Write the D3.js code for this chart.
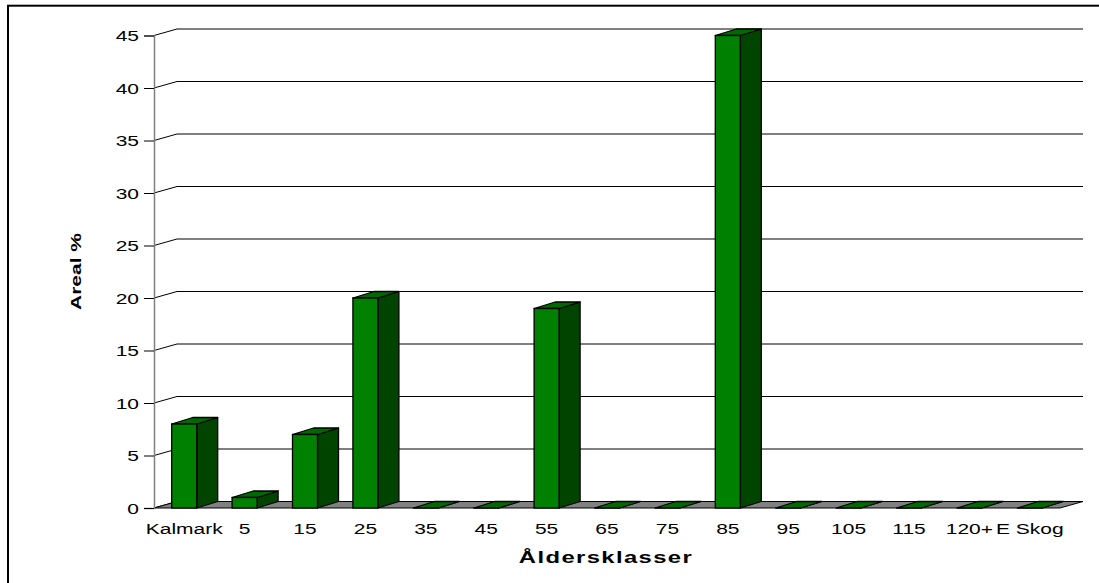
<!DOCTYPE html>
<html>
<head>
<meta charset="utf-8">
<script src="https://cdn.jsdelivr.net/npm/d3@7"></script>
<style>
  html, body { margin: 0; padding: 0; background: #fff; }
  svg { display: block; }
  text { font-family: "Liberation Sans", Arial, sans-serif; fill: #000; }
</style>
</head>
<body>
<svg id="chart" width="1099" height="583"></svg>
<script>
// Age classes and share of area (%)
const categories = ["Kalmark", "5", "15", "25", "35", "45", "55", "65", "75", "85", "95", "105", "115", "120+", "E Skog"];
const values = [8, 1, 7, 20, 0, 0, 19, 0, 0, 45, 0, 0, 0, 0, 0];
const yTicks = [0, 5, 10, 15, 20, 25, 30, 35, 40, 45];
const xTitle = "Åldersklasser";
const yTitle = "Areal %";

(function () {
  const svg = d3.select("#chart");
  const W = 1099, H = 583;

  // plot frame (front plane) and 3D depth offsets
  const plotLeft = 154, plotRight = 1060, plotBottom = 508, plotTop = 35.5;
  const wallDx = 23, wallDy = -6.5;   // back wall offset
  const barDx = 21, barDy = -6.5;     // bar depth
  const stretch = 1.4;                // horizontal text stretch

  const x = d3.scaleBand().domain(categories).range([plotLeft, plotRight])
    .paddingInner(0.586).paddingOuter(0.293);
  const y = d3.scaleLinear().domain([0, 45]).range([plotBottom, plotTop]);

  // outer border
  svg.append("rect").attr("x", 8).attr("y", 5.7).attr("width", W + 10).attr("height", H + 10)
    .attr("fill", "none").attr("stroke", "#000").attr("stroke-width", 2);

  // gridlines on the back wall with their diagonal connectors
  const grid = svg.append("g");
  yTicks.forEach(t => {
    const yy = y(t);
    grid.append("line").attr("x1", plotLeft + wallDx).attr("x2", plotRight + wallDx)
      .attr("y1", yy + wallDy).attr("y2", yy + wallDy)
      .attr("stroke", "#000").attr("stroke-width", 1);
    grid.append("line").attr("x1", plotLeft).attr("x2", plotLeft + wallDx)
      .attr("y1", yy).attr("y2", yy + wallDy)
      .attr("stroke", "#000").attr("stroke-width", 1);
  });

  // floor
  svg.append("path")
    .attr("d", `M${plotLeft},${plotBottom}L${plotRight},${plotBottom}L${plotRight + wallDx},${plotBottom + wallDy}L${plotLeft + wallDx},${plotBottom + wallDy}Z`)
    .attr("fill", "#808080").attr("stroke", "#000").attr("stroke-width", 1).attr("stroke-linejoin", "round");

  // y axis
  const yAxis = svg.append("g").attr("transform", `translate(${plotLeft},0)`)
    .call(d3.axisLeft(y).tickValues(yTicks).tickSize(10).tickPadding(5).tickFormat(d3.format("d")));
  yAxis.select(".domain").attr("stroke", "#808080").attr("stroke-width", 1.5);
  yAxis.selectAll(".tick line").attr("stroke", "#000");
  yAxis.selectAll(".tick text")
    .attr("font-size", 15).attr("font-family", null)
    .attr("x", -15 / stretch).attr("dy", "0.35em")
    .attr("transform", `scale(${stretch},1)`);

  // bars
  const bars = svg.append("g").selectAll("g").data(values).join("g");
  bars.each(function (v, i) {
    const g = d3.select(this);
    const x0 = x(categories[i]), bw = x.bandwidth();
    const yt = y(v);
    // side face
    g.append("path")
      .attr("d", `M${x0 + bw},${yt}L${x0 + bw + barDx},${yt + barDy}L${x0 + bw + barDx},${plotBottom + barDy}L${x0 + bw},${plotBottom}Z`)
      .attr("fill", "#004400").attr("stroke", "#000").attr("stroke-width", 1.3).attr("stroke-linejoin", "round");
    // top face
    g.append("path")
      .attr("d", `M${x0},${yt}L${x0 + barDx},${yt + barDy}L${x0 + bw + barDx},${yt + barDy}L${x0 + bw},${yt}Z`)
      .attr("fill", "#006a00").attr("stroke", "#000").attr("stroke-width", 1.3).attr("stroke-linejoin", "round");
    // front face
    if (v > 0) {
      g.append("rect").attr("x", x0).attr("y", yt).attr("width", bw).attr("height", plotBottom - yt)
        .attr("fill", "#008000").attr("stroke", "#000").attr("stroke-width", 1.3);
    }
  });

  // x axis labels
  const xAxis = svg.append("g").attr("transform", `translate(0,${plotBottom})`)
    .call(d3.axisBottom(x).tickSize(0).tickPadding(15.4));
  xAxis.select(".domain").remove();
  xAxis.selectAll(".tick text")
    .attr("font-size", 15).attr("font-family", null)
    .attr("transform", `scale(${stretch},1)`);

  // axis titles
  svg.append("text")
    .attr("transform", `translate(606,562.5) scale(${stretch},1)`)
    .attr("text-anchor", "middle").attr("font-size", 17).attr("font-weight", "bold")
    .attr("letter-spacing", 1)
    .text(xTitle);

  svg.append("text")
    .attr("transform", `translate(81,271.5) rotate(-90) scale(${stretch},1)`)
    .attr("text-anchor", "middle").attr("font-size", 15).attr("font-weight", "bold")
    .text(yTitle);
})();
</script>
</body>
</html>
